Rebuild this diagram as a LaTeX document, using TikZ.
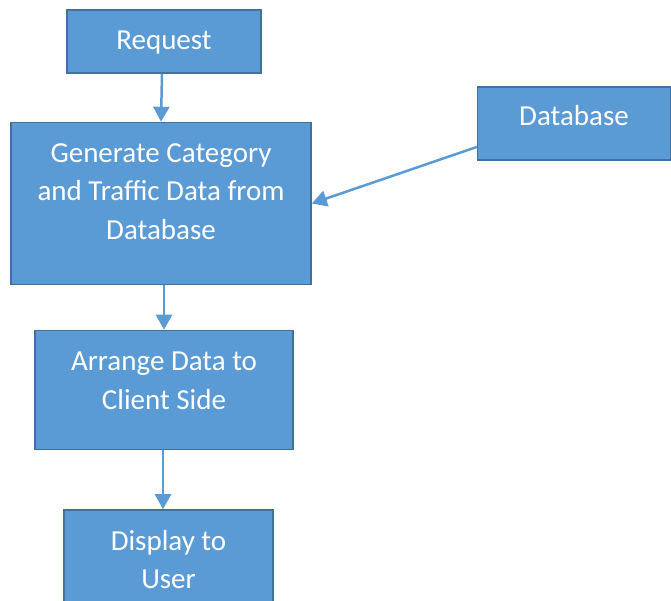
\documentclass[tikz,border=0pt]{standalone}
\usepackage{fontspec}
\setmainfont{Carlito}
\usetikzlibrary{
    positioning,
    arrows.meta
}
\definecolor{boxfill}{HTML}{5B9BD5}
\definecolor{boxline}{HTML}{41719C}

\begin{document}
\begin{tikzpicture}[
    block/.style={
        draw=boxline, line width=1.5pt, rectangle, fill=boxfill,
        text=white, align=center, inner sep=0pt,
        font=\fontsize{29pt}{38.5pt}\selectfont
    },
    arrow/.style={-{Triangle[length=15pt,width=16pt]}, line width=2.5pt, draw=boxfill}
]

% Canvas
\clip (0,0) rectangle (671pt,601pt);

% ============================== MAIN FLOW ==============================
\node[block, minimum width=194pt, minimum height=63pt, text depth=2pt] (request) at (164pt,559.5pt) {Request};
\node[block, minimum width=300pt, minimum height=162pt, text depth=24pt, below=48pt of request, xshift=-3pt] (generate) {Generate Category\\and Traffic Data from\\Database};
\node[block, minimum width=258pt, minimum height=119pt, text depth=19pt, below=44.5pt of generate, xshift=3pt] (arrange) {Arrange Data to\\Client Side};
\node[block, minimum width=209pt, minimum height=119pt, text depth=20pt, below=59pt of arrange, xshift=4.5pt] (display) {Display to\\User};

% ============================== SOURCE ==============================
\node[block, minimum width=193pt, minimum height=73pt, text depth=17pt, right=165pt of generate, yshift=80pt] (database) {Database};

% Data flow
\draw[arrow] ([xshift=-2pt]request.south) -- (generate.north);
\draw[arrow] ([yshift=-23.5pt]database.west) -- (generate.east);
\draw[arrow] (arrange.north |- generate.south) -- (arrange.north);
\draw[arrow] ([xshift=-1pt]arrange.south) -- ([xshift=-1pt]arrange.south |- display.north);

\end{tikzpicture}
\end{document}
